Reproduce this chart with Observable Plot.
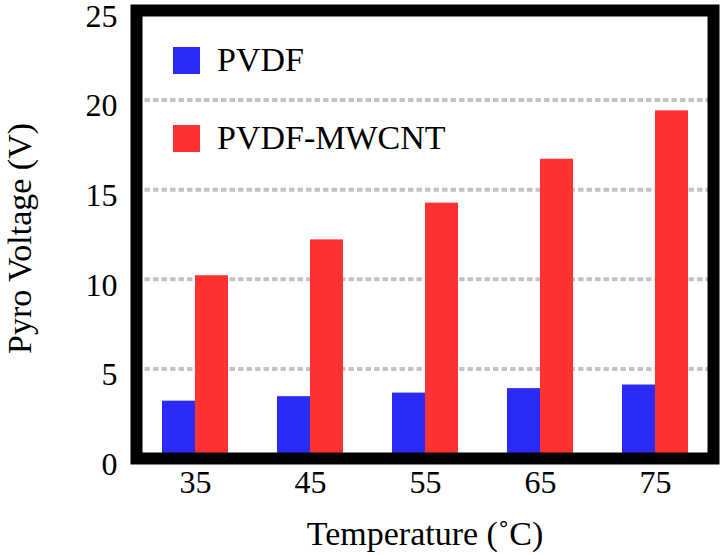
<!DOCTYPE html>
<html>
<head>
<meta charset="utf-8">
<script src="https://cdn.jsdelivr.net/npm/d3@7"></script>
<script src="https://cdn.jsdelivr.net/npm/@observablehq/plot@0.6"></script>
<style>
  html, body { margin: 0; padding: 0; background: white; }
  #wrap { position: relative; width: 720px; height: 555px; }
  #legend { position: absolute; left: 173px; top: 41px; }
</style>
</head>
<body>
<div id="wrap"><div id="chart"></div><div id="legend"></div></div>
<script>
const temperatures = [35, 45, 55, 65, 75];
const pvdfValues = [3.2, 3.45, 3.65, 3.9, 4.1];
const mwcntValues = [10.2, 12.2, 14.25, 16.7, 19.4];
const seriesNames = ["PVDF", "PVDF-MWCNT"];
const seriesColors = ["#2b2bf6", "#ff3232"];
const yTickValues = [0, 5, 10, 15, 20, 25];
const gridValues = [5, 10, 15, 20];
const xTitle = "Temperature (˚C)";
const yTitle = "Pyro Voltage (V)";

const data = temperatures.map((t, i) => ({t, pvdf: pvdfValues[i], mwcnt: mwcntValues[i]}));

const FONT = "Liberation Serif";
const W = 720, H = 555, ML = 136, MR = 7, MT = 10, MB = 97;
const padInner = 0.428, padOuter = padInner / 2;
const step = (W - ML - MR) / (temperatures.length - padInner + 2 * padOuter);
const half = step * (1 - padInner) / 2;

const chart = Plot.plot({
  width: W, height: H,
  marginLeft: ML, marginRight: MR, marginTop: MT, marginBottom: MB,
  style: {fontFamily: FONT, color: "black", background: "white", overflow: "visible"},
  x: {type: "band", domain: temperatures, paddingInner: padInner, paddingOuter: padOuter},
  y: {domain: [0, 25]},
  marks: [
    Plot.ruleY(gridValues, {stroke: "#c4c4c4", strokeWidth: 4, strokeDasharray: "5.5,3"}),
    Plot.barY(data, {x: "t", y: "pvdf", fill: seriesColors[0], insetRight: half}),
    Plot.barY(data, {x: "t", y: "mwcnt", fill: seriesColors[1], insetLeft: half}),
    Plot.frame({stroke: "black", strokeWidth: 12}),
    Plot.axisX({tickSize: 0, tickPadding: 12, fontSize: 32, fontFamily: FONT, label: xTitle, labelAnchor: "center", labelOffset: 86}),
    Plot.axisY({ticks: yTickValues, tickSize: 0, tickPadding: 19, fontSize: 32, fontFamily: FONT, label: yTitle, labelAnchor: "center", labelOffset: 130})
  ]
});
const svg = d3.select(chart);
svg.selectAll("text").attr("font-family", FONT);
svg.selectAll('[aria-label="x-axis label"]').attr("font-size", 34).selectAll("text").attr("font-size", 34).text(xTitle);
svg.selectAll('[aria-label="y-axis label"]').attr("font-size", 34).selectAll("text").attr("font-size", 34).text(yTitle);
svg.selectAll('[aria-label="y-axis tick label"]').each(function () {
  const g = d3.select(this);
  g.attr("transform", ((g.attr("transform") || "") + " translate(0,6)").trim());
});
svg.selectAll('[aria-label="y-axis label"]').each(function () {
  const g = d3.select(this);
  g.attr("transform", ((g.attr("transform") || "") + " translate(0,4)").trim());
});
document.getElementById("chart").appendChild(chart);

const legend = Plot.legend({
  color: {domain: seriesNames, range: seriesColors},
  legend: "swatches",
  columns: 1,
  swatchSize: 27,
  style: {fontFamily: FONT, fontSize: "34px", color: "black"}
});
const items = Array.from(legend.children).filter(el => el.tagName === "DIV");
if (items.length) items[0].style.marginBottom = "39px";
document.getElementById("legend").appendChild(legend);
</script>
</body>
</html>
